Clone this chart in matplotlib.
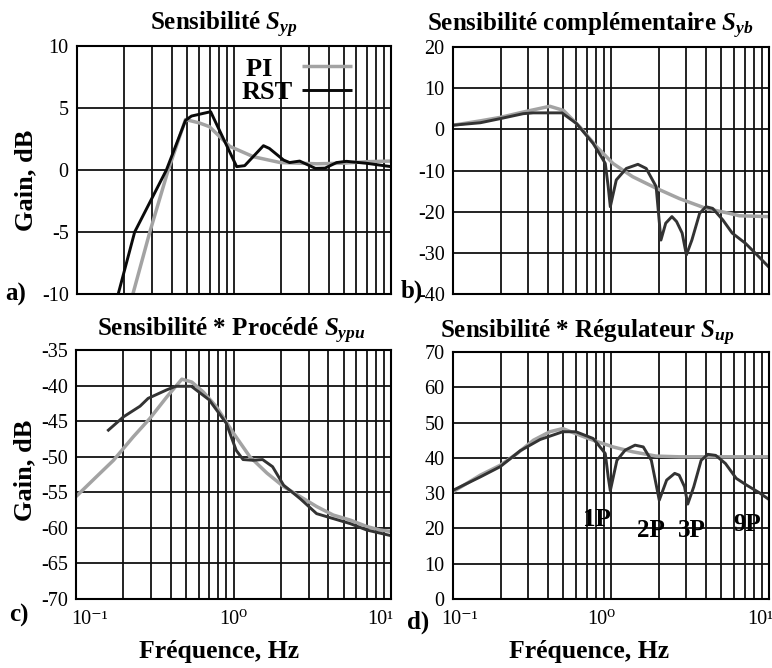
import numpy as np
import matplotlib
matplotlib.use("Agg")
import matplotlib.pyplot as plt
from matplotlib.ticker import FixedLocator, LogLocator, NullFormatter
from matplotlib.transforms import ScaledTranslation

plt.rcParams['font.family'] = ['Liberation Serif', 'DejaVu Serif']
plt.rcParams['mathtext.fontset'] = 'custom'
plt.rcParams['mathtext.rm'] = 'Liberation Serif'
plt.rcParams['mathtext.it'] = 'Liberation Serif:italic:bold'
plt.rcParams['mathtext.bf'] = 'Liberation Serif:bold'
plt.rcParams['axes.unicode_minus'] = False

# ---- data (frequency in Hz, gain in dB) ----
# a) Sensibilite Syp
syp_pi_f = [0.227, 0.291, 0.381, 0.491, 0.60, 0.696, 0.942, 1.33, 1.97, 3.37, 5.0, 7.03, 10.0]
syp_pi_g = [-10.0, -5.0, 0.0, 4.07, 3.8, 3.5, 1.9, 1.07, 0.6, 0.5, 0.55, 0.67, 0.72]
syp_rst_f = [0.183, 0.233, 0.371, 0.491, 0.536, 0.71, 1.04, 1.17, 1.54, 1.68, 2.07, 2.26, 2.62,
             3.3, 3.8, 4.5, 5.2, 7.0, 10.0]
syp_rst_g = [-10.0, -5.0, 0.0, 4.0, 4.35, 4.7, 0.27, 0.35, 1.96, 1.74, 0.8, 0.6, 0.72,
             0.13, 0.15, 0.6, 0.7, 0.54, 0.27]

# b) Sensibilite complementaire Syb
syb_pi_f = [0.1, 0.149, 0.199, 0.278, 0.41, 0.5, 0.635, 0.81, 1.03, 1.37, 1.93, 2.7, 3.99,
            5.6, 6.5, 10.0]
syb_pi_g = [1.0, 2.06, 2.9, 4.2, 5.6, 4.6, 0.6, -4.2, -8.3, -11.5, -14.3, -16.8, -19.2,
            -20.4, -21.0, -21.2]
syb_rst_f = [0.1, 0.149, 0.199, 0.278, 0.322, 0.489, 0.605, 0.77, 0.87, 0.92, 0.96, 0.99,
             1.08, 1.25, 1.48, 1.67, 1.93, 2.07, 2.22, 2.43, 2.6, 2.82, 3.0, 3.25, 3.64,
             3.99, 4.4, 5.1, 5.85, 7.1, 8.6, 10.0]
syb_rst_g = [1.0, 1.6, 2.6, 3.8, 4.0, 4.0, 1.4, -3.4, -6.7, -8.3, -13.9, -18.8,
             -12.3, -9.5, -8.5, -9.5, -13.9, -26.9, -22.8, -21.2, -22.4, -25.2, -30.5, -26.9, -20.4,
             -18.8, -19.2, -22.0, -25.2, -27.7, -30.9, -33.5]

# c) Sensibilite * Procede Sypu
sypu_pi_f = [0.1, 0.135, 0.173, 0.231, 0.295, 0.377, 0.47, 0.543, 0.643, 0.78, 1.0, 1.27,
             1.63, 2.08, 2.65, 3.37, 4.3, 5.5, 7.0, 8.5, 10.0]
sypu_pi_g = [-55.6, -52.8, -50.5, -47.2, -44.6, -41.6, -39.1, -39.5, -40.9, -43.0, -46.7,
             -50.0, -52.3, -54.2, -55.6, -57.0, -58.2, -58.9, -59.8, -60.3, -60.5]
sypu_rst_f = [0.158, 0.2, 0.255, 0.287, 0.377, 0.43, 0.54, 0.7, 0.9, 1.04, 1.15, 1.33, 1.53,
              1.77, 2.08, 2.65, 3.37, 4.3, 5.5, 7.0, 10.0]
sypu_rst_g = [-46.4, -44.4, -42.9, -41.8, -40.6, -40.1, -40.1, -42.0, -45.3, -49.1, -50.4,
              -50.5, -50.4, -51.4, -54.0, -55.9, -58.0, -58.7, -59.4, -60.3, -61.1]

# d) Sensibilite * Regulateur Sup
sup_pi_f = [0.1, 0.149, 0.199, 0.254, 0.323, 0.41, 0.495, 0.636, 0.77, 1.03, 1.38, 1.93, 2.7,
            4.5, 10.0]
sup_pi_g = [30.4, 35.1, 37.9, 41.2, 45.0, 47.4, 48.3, 46.4, 45.0, 43.1, 41.7, 40.5, 40.3,
            40.3, 40.3]
sup_rst_f = [0.1, 0.149, 0.199, 0.266, 0.356, 0.495, 0.6, 0.77, 0.87, 0.92, 0.96, 0.99, 1.09,
             1.23, 1.42, 1.6, 1.8, 2.02, 2.25, 2.53, 2.7, 2.92, 3.06, 3.34, 3.72, 4.1, 4.6,
             5.3, 6.2, 7.2, 8.7, 10.0]
sup_rst_g = [30.8, 34.6, 37.5, 42.0, 45.2, 47.4, 47.4, 45.5, 42.6, 41.2, 34.6, 30.7, 39.3,
             42.2, 43.6, 43.1, 39.3, 28.0, 33.7, 35.6, 35.1, 31.8, 26.9, 31.8, 39.3, 41.0, 40.7,
             38.4, 34.2, 32.3, 30.1, 28.2]

harm_labels = ['1P', '2P', '3P', '9P']
harm_f = [0.82, 1.79, 3.25, 7.33]
harm_g = [22.5, 19.5, 19.5, 21.0]

titles = ['Sensibilité $S_{yp}$', 'Sensibilité complémentaire $S_{yb}$',
          'Sensibilité * Procédé $S_{ypu}$', 'Sensibilité * Régulateur $S_{up}$']
ylims = [(-10, 10), (-40, 20), (-70, -35), (0, 70)]
ysteps = [5, 10, 5, 10]
xtick_vals = [0.1, 1, 10]
xtick_labels = ['10⁻¹', '10⁰', '10¹']
letters = ['a)', 'b)', 'c)', 'd)']

PI_COL = '#a3a3a3'
RST_COLS = ['#0a0a0a', '#333333', '#333333', '#333333']

W, H = 772, 668
fig = plt.figure(figsize=(W / 100, H / 100), dpi=100)

# axes boxes in pixels: left, top, right, bottom
boxes = [(77, 46, 391, 294), (453, 47, 769, 294), (76, 350, 391, 599), (453, 352, 769, 599)]
title_x = [0.468, 0.434, 0.494, 0.424]
title_pad = [11, 11, 10, 10]
# horizontal nudges (px) of the bottom tick labels, as in the original
xlab_shift = {2: [14, 0, -11], 3: [7, -10, -9]}
axes = []
for (l, t, r, b) in boxes:
    axes.append(fig.add_axes([l / W, 1 - b / H, (r - l) / W, (b - t) / H]))

series = [(syp_pi_f, syp_pi_g, syp_rst_f, syp_rst_g),
          (syb_pi_f, syb_pi_g, syb_rst_f, syb_rst_g),
          (sypu_pi_f, sypu_pi_g, sypu_rst_f, sypu_rst_g),
          (sup_pi_f, sup_pi_g, sup_rst_f, sup_rst_g)]

for i, ax in enumerate(axes):
    pf, pg, rf, rg = series[i]
    ax.set_xscale('log')
    ax.set_xlim(0.1, 10.0)
    lo, hi = ylims[i]
    ax.set_ylim(lo, hi)
    yt = np.arange(lo, hi + 0.1, ysteps[i])
    ax.yaxis.set_major_locator(FixedLocator(yt))
    ax.xaxis.set_major_locator(FixedLocator(xtick_vals))
    ax.xaxis.set_minor_locator(LogLocator(base=10, subs=np.arange(2, 10), numticks=20))
    ax.xaxis.set_minor_formatter(NullFormatter())
    ax.grid(True, which='major', axis='both', color='#111111', lw=1.3)
    ax.grid(True, which='minor', axis='x', color='#111111', lw=1.3)
    ax.set_axisbelow(True)
    for sp in ax.spines.values():
        sp.set_linewidth(1.5)
    ax.tick_params(which='both', length=0, labelsize=14.5, pad=6)
    ax.set_yticklabels([f'{v:g}' for v in yt])
    if i < 2:
        ax.set_xticklabels([])
    else:
        ax.tick_params(axis='x', pad=8)
        ax.set_xticklabels(xtick_labels)
        for lbl, dx in zip(ax.get_xticklabels(), xlab_shift[i]):
            lbl.set_ha('center')
            lbl.set_transform(lbl.get_transform() + ScaledTranslation(dx / 100, 0, fig.dpi_scale_trans))
        ax.set_xlabel('Fréquence, Hz', fontsize=18.5, fontweight='bold')
        ax.xaxis.set_label_coords(0.454 if i == 2 else 0.43, -0.165)
    if i % 2 == 0:
        ax.set_ylabel('Gain, dB', fontsize=19, fontweight='bold')
        ax.yaxis.set_label_coords(-0.127, 0.46 if i == 0 else 0.515)
    t = ax.set_title(titles[i], fontsize=18, fontweight='bold', pad=title_pad[i])
    t.set_x(title_x[i])

    ax.plot(pf, pg, color=PI_COL, lw=2.5, label='PI   ', solid_capstyle='butt')
    ax.plot(rf, rg, color=RST_COLS[i], lw=2.1, label='RST', solid_capstyle='butt')

axes[0].legend(loc='upper right', bbox_to_anchor=(0.876, 0.955), frameon=False,
               markerfirst=False, handlelength=1.9, handletextpad=0.35, labelspacing=0.0,
               borderpad=0, borderaxespad=0,
               prop={'family': 'Liberation Serif', 'weight': 'bold', 'size': 19})

for lab, f, g in zip(harm_labels, harm_f, harm_g):
    axes[3].text(f, g, lab, fontsize=18, fontweight='bold', ha='center', va='center')

# panel letters
letter_pos = [(5, 294), (401, 291), (9, 615), (407, 622)]
for lab, (x, y) in zip(letters, letter_pos):
    fig.text(x / W, 1 - y / H, lab, fontsize=18, fontweight='bold', ha='left', va='center')

fig.savefig('out.png', dpi=100)
